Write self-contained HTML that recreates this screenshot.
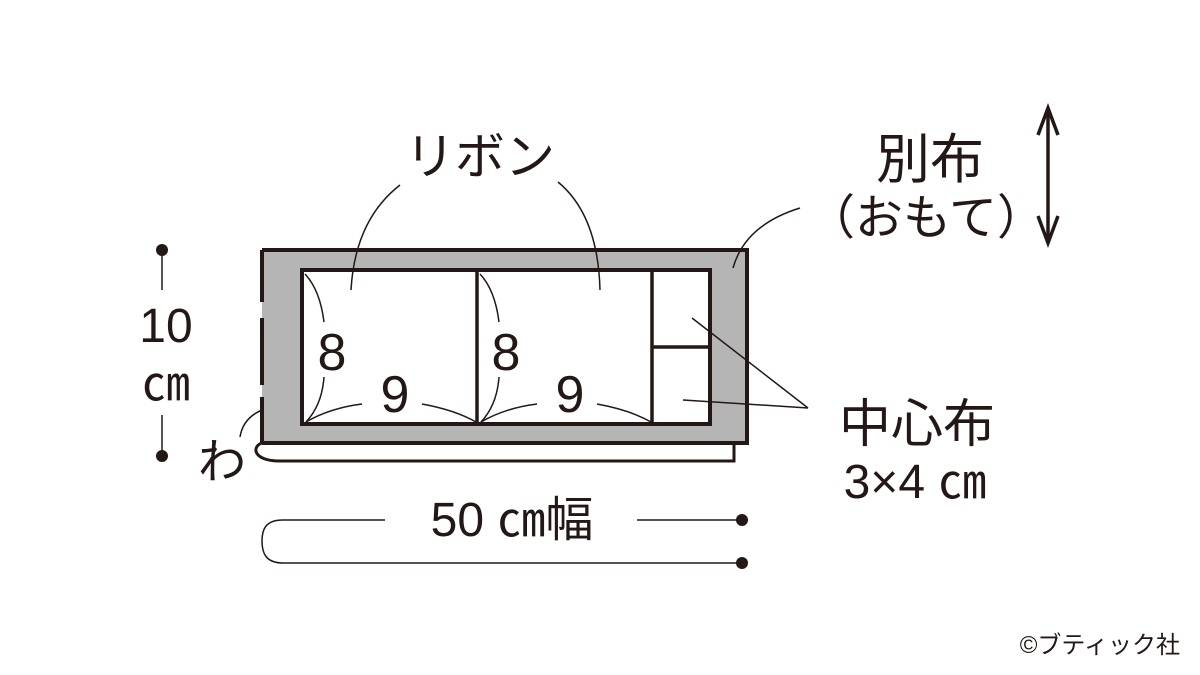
<!DOCTYPE html>
<html><head><meta charset="utf-8"><style>
html,body{margin:0;padding:0;background:#fff;}
svg{display:block;}
text{font-family:"Liberation Sans","Noto Sans CJK JP",sans-serif;fill:#231815;}
</style></head><body>
<svg width="1200" height="675" viewBox="0 0 1200 675" xmlns="http://www.w3.org/2000/svg">
<g stroke="#231815" fill="none">
<path d="M262 443 C252 446 252 461 280 461 L734 461 L734 443" stroke-width="3" fill="#fff"/>
<rect x="262" y="250" width="485" height="193" fill="#b5b5b6" stroke="none"/>
<path d="M262 250 L747 250 L747 443 L262 443" stroke-width="4"/>
<path d="M262 250 V302 M262 318 V385 M262 397 V443" stroke-width="4"/>
<rect x="302" y="270" width="408" height="154" fill="#fff" stroke-width="4"/>
<path d="M477 270 V424 M652 270 V424 M652 347 H710" stroke-width="3.5"/>
<g stroke-width="1.5">
<path d="M305 274 Q320 290 324 322"/>
<path d="M324 377 Q322 405 306 422"/>
<path d="M306 422 Q330 408 362 404"/>
<path d="M422 404 Q455 410 476 422"/>
<path d="M480 274 Q495 290 499 322"/>
<path d="M499 377 Q497 405 481 422"/>
<path d="M481 422 Q505 408 537 404"/>
<path d="M597 404 Q630 410 651 422"/>
<path d="M351 290 Q355 220 400 185"/>
<path d="M600 290 Q598 215 558 182"/>
<path d="M733 268 Q745 225 800 208"/>
<path d="M692 318 L808 408"/>
<path d="M683 400 L808 408"/>
<path d="M262 410 Q243 418 240 437"/>
<path d="M162 250 V290 M162 415 V456"/>
<path d="M385 520 H283 C265 520 262 530 262 541 C262 552 265 563 283 563 H742"/>
<path d="M637 520 H742"/>
</g>
<path d="M1048 108 V243" stroke-width="3.5"/>
<path d="M1038 135 L1048 108 L1058 135 M1038 216 L1048 243 L1058 216" stroke-width="3.5"/>
</g>
<g fill="#231815">
<circle cx="162" cy="250" r="6"/><circle cx="162" cy="456" r="6"/>
<circle cx="742" cy="520" r="6"/><circle cx="742" cy="563" r="6"/>
</g>
<g font-size="48">
<text x="480" y="174" text-anchor="middle" font-size="50">リボン</text>
<text x="930" y="178" text-anchor="middle" font-size="54">別布</text>
<text x="926" y="234" text-anchor="middle">（おもて）</text>
<text x="917" y="442" text-anchor="middle" font-size="52">中心布</text>
<text x="915" y="498" text-anchor="middle">3×4 ㎝</text>
<text x="512" y="536" text-anchor="middle">50 ㎝幅</text>
<text x="166" y="342" text-anchor="middle">10</text>
<text x="166" y="400" text-anchor="middle">㎝</text>
<text x="222" y="478" text-anchor="middle">わ</text>
<text x="332" y="370" text-anchor="middle" font-size="52">8</text>
<text x="506" y="370" text-anchor="middle" font-size="52">8</text>
<text x="395" y="412" text-anchor="middle" font-size="52">9</text>
<text x="570" y="412" text-anchor="middle" font-size="52">9</text>
</g>
<text x="1180" y="653" font-size="24" text-anchor="end">©ブティック社</text>
</svg>
</body></html>
